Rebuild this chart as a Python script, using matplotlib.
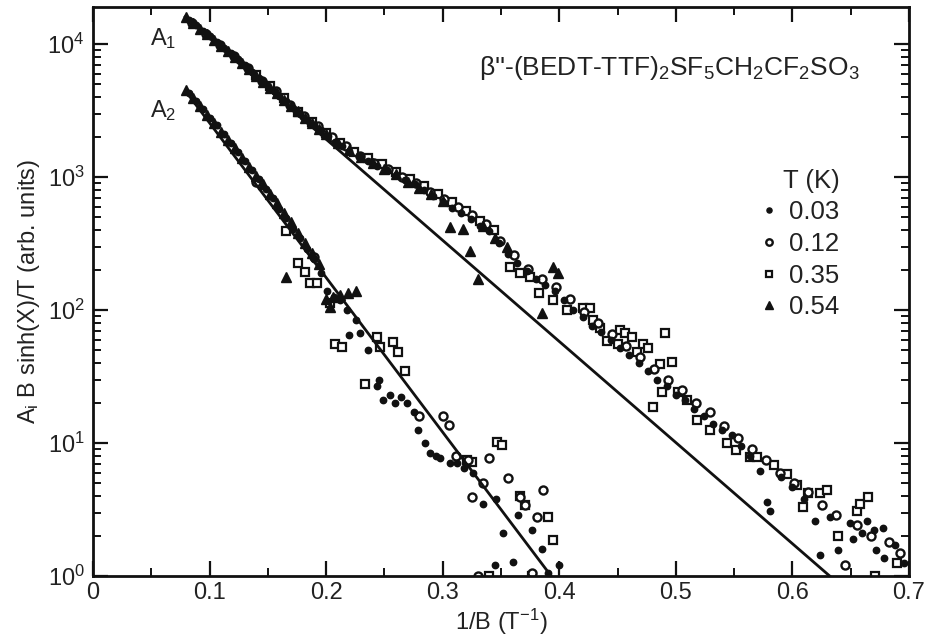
import matplotlib
matplotlib.use('Agg')
import matplotlib.pyplot as plt
from matplotlib.lines import Line2D
from matplotlib.ticker import LogLocator, MultipleLocator, NullFormatter

plt.rcParams['font.family'] = ['Liberation Sans', 'DejaVu Sans']
plt.rcParams['mathtext.fontset'] = 'custom'
plt.rcParams['mathtext.rm'] = 'Liberation Sans'
plt.rcParams['mathtext.it'] = 'Liberation Sans:italic'
plt.rcParams['mathtext.default'] = 'regular'

# ---------------- data ----------------
temps = ['0.03', '0.12', '0.35', '0.54']

# T = 0.03 K (filled circles)
t003_a1_x = [0.082, 0.088, 0.094, 0.100, 0.106, 0.112, 0.118, 0.124, 0.130, 0.136, 0.142, 0.148,
             0.154, 0.160, 0.166, 0.172, 0.178, 0.184, 0.190, 0.196, 0.202, 0.208, 0.214, 0.220,
             0.228, 0.236, 0.244, 0.252, 0.260, 0.268, 0.276, 0.284, 0.292, 0.300, 0.308, 0.316,
             0.324, 0.332, 0.340, 0.348, 0.356, 0.364, 0.372, 0.380, 0.388, 0.396, 0.404, 0.412,
             0.420, 0.428, 0.436, 0.444, 0.452, 0.460, 0.468, 0.476, 0.484, 0.492, 0.500, 0.508,
             0.516, 0.524, 0.532, 0.540, 0.548, 0.556, 0.564, 0.572, 0.578, 0.581, 0.590, 0.600,
             0.610, 0.619, 0.624, 0.632, 0.639, 0.649, 0.652, 0.660, 0.664, 0.670, 0.672, 0.678,
             0.679, 0.688, 0.696]
t003_a1_y = [15200, 13800, 12600, 11400, 10300, 9300, 8500, 7700, 6900, 6200, 5600, 5000,
             4550, 4100, 3700, 3300, 3000, 2700, 2450, 2250, 2050, 1850, 1700, 1580,
             1430, 1330, 1220, 1130, 1030, 950, 880, 800, 720, 650, 590, 540,
             480, 430, 390, 320, 265, 225, 195, 172, 155, 140, 118, 100,
             88, 76, 68, 60, 52, 46, 40, 35, 30, 27, 23, 21,
             18, 16, 14, 12.5, 11.5, 9.5, 8.0, 6.2, 3.6, 3.1, 5.6, 4.7,
             3.8, 2.6, 1.44, 2.8, 1.57, 2.5, 1.9, 2.1, 2.6, 2.2, 1.57, 2.3,
             1.36, 1.7, 1.25]
t003_a2_x = [0.082, 0.088, 0.094, 0.100, 0.106, 0.112, 0.118, 0.124, 0.130, 0.136, 0.142, 0.148,
             0.154, 0.160, 0.166, 0.172, 0.178, 0.184, 0.190, 0.196, 0.201, 0.207, 0.212, 0.218,
             0.220, 0.226, 0.229, 0.236, 0.244, 0.245, 0.249, 0.255, 0.259, 0.264, 0.269, 0.275,
             0.279, 0.285, 0.289, 0.294, 0.298, 0.306, 0.312, 0.318, 0.326, 0.335, 0.346, 0.345,
             0.352, 0.360, 0.365, 0.377, 0.385, 0.390, 0.400]
t003_a2_y = [4300, 3750, 3250, 2800, 2450, 2100, 1800, 1550, 1320, 1120, 960, 820,
             690, 580, 490, 410, 350, 290, 240, 190, 140, 125, 118, 100,
             65, 84, 67, 50, 27, 30, 21, 23, 20, 22, 20, 17,
             12.5, 10, 8.4, 8.0, 7.7, 7.1, 7.1, 6.5, 6.0, 3.5, 3.8, 1.2,
             2.1, 1.27, 2.9, 2.2, 1.6, 1.05, 1.2]

# T = 0.12 K (open circles)
t012_a1_x = [0.085, 0.097, 0.109, 0.121, 0.133, 0.145, 0.157, 0.169, 0.181, 0.193, 0.205, 0.217,
             0.229, 0.241, 0.253, 0.265, 0.277, 0.289, 0.301, 0.313, 0.325, 0.337, 0.349, 0.361,
             0.373, 0.385, 0.397, 0.409, 0.421, 0.433, 0.445, 0.457, 0.469, 0.481, 0.493, 0.505,
             0.517, 0.529, 0.541, 0.553, 0.565, 0.577, 0.589, 0.601, 0.613, 0.625, 0.637, 0.645,
             0.655, 0.667, 0.683, 0.692]
t012_a1_y = [14500, 12000, 9900, 8100, 6600, 5300, 4400, 3500, 2900, 2400, 2000, 1700,
             1450, 1280, 1150, 1000, 900, 770, 680, 600, 520, 440, 330, 260,
             205, 170, 148, 120, 97, 80, 66, 54, 44, 36, 30, 25,
             20, 17, 13.5, 11, 9.0, 7.5, 6.0, 5.0, 4.3, 3.4, 2.9, 1.2,
             2.4, 2.0, 1.8, 1.5]
t012_a2_x = [0.140, 0.190, 0.280, 0.300, 0.305, 0.311, 0.322, 0.325, 0.330, 0.335, 0.340, 0.356,
             0.366, 0.371, 0.377, 0.381, 0.386]
t012_a2_y = [920, 250, 16, 16, 13.7, 8.0, 7.5, 3.9, 1.0, 5.0, 7.7, 5.5,
             3.9, 3.4, 1.05, 2.8, 4.4]

# T = 0.35 K (open squares)
t035_a1_x = [0.140, 0.152, 0.164, 0.176, 0.188, 0.200, 0.212, 0.224, 0.236, 0.248, 0.260, 0.272,
             0.284, 0.296, 0.308, 0.320, 0.332, 0.344, 0.358, 0.366, 0.375, 0.383, 0.395, 0.407,
             0.420, 0.426, 0.429, 0.435, 0.441, 0.450, 0.452, 0.456, 0.462, 0.467, 0.472, 0.476,
             0.486, 0.491, 0.497, 0.480, 0.488, 0.502, 0.510, 0.518, 0.529, 0.544, 0.552, 0.564,
             0.570, 0.584, 0.595, 0.604, 0.609, 0.613, 0.624, 0.630, 0.639, 0.655, 0.658, 0.665,
             0.671, 0.690]
t035_a1_y = [5900, 4800, 3900, 3100, 2600, 2150, 1800, 1550, 1380, 1250, 1100, 960,
             850, 740, 650, 560, 470, 400, 210, 190, 178, 135, 118, 100,
             104, 104, 84, 73, 59, 56, 71, 67, 63, 48, 56, 52,
             39, 67, 41, 18.6, 24, 24, 21, 15, 12.5, 10, 8.9, 7.9,
             7.9, 6.8, 5.8, 4.8, 3.3, 4.2, 4.2, 4.4, 2.0, 3.1, 3.5, 3.9,
             1.0, 1.25]
t035_a2_x = [0.166, 0.176, 0.182, 0.186, 0.192, 0.203, 0.208, 0.214, 0.233, 0.244, 0.246, 0.257,
             0.262, 0.268, 0.321, 0.325, 0.347, 0.351, 0.366, 0.371, 0.390, 0.395, 0.340, 0.377]
t035_a2_y = [390, 225, 193, 160, 160, 113, 56, 53, 28, 63, 53, 57,
             48, 35, 7.4, 7.2, 10.2, 9.6, 4.0, 3.4, 2.8, 1.86, 1.0, 1.0]

# T = 0.54 K (filled triangles)
t054_a1_x = [0.080, 0.086, 0.092, 0.098, 0.104, 0.110, 0.116, 0.122, 0.128, 0.134, 0.140, 0.146,
             0.152, 0.158, 0.164, 0.170, 0.176, 0.182, 0.188, 0.194, 0.200, 0.210, 0.220, 0.230,
             0.240, 0.250, 0.260, 0.270, 0.280, 0.290, 0.300, 0.306, 0.317, 0.323, 0.330, 0.335,
             0.345, 0.355, 0.385, 0.395, 0.399]
t054_a1_y = [16000, 14300, 13000, 11900, 10700, 9700, 8800, 8000, 7200, 6500, 5800, 5200,
             4700, 4250, 3800, 3450, 3150, 2800, 2550, 2300, 2100, 1800, 1600, 1420,
             1270, 1150, 1050, 920, 830, 740, 660, 420, 410, 280, 170, 430,
             350, 300, 95, 210, 190]
t054_a2_x = [0.080, 0.086, 0.092, 0.098, 0.104, 0.110, 0.116, 0.122, 0.128, 0.134, 0.140, 0.146,
             0.152, 0.158, 0.164, 0.166, 0.170, 0.176, 0.182, 0.188, 0.194, 0.200, 0.203, 0.206,
             0.212, 0.219, 0.226]
t054_a2_y = [4500, 3900, 3400, 2950, 2550, 2200, 1900, 1650, 1400, 1200, 1020, 880,
             750, 640, 540, 178, 460, 380, 320, 270, 220, 120, 105, 125,
             130, 135, 140]

# straight-line fits (end points)
fit_a1_x = [0.079, 0.632]
fit_a1_y = [16000, 1.0]
fit_a2_x = [0.080, 0.393]
fit_a2_y = [4360, 1.0]

x_ticks = [0, 0.1, 0.2, 0.3, 0.4, 0.5, 0.6, 0.7]
x_ticklabels = ['0', '0.1', '0.2', '0.3', '0.4', '0.5', '0.6', '0.7']

# ---------------- figure ----------------
fig = plt.figure(figsize=(9.28, 6.41), dpi=100)
ax = fig.add_axes([0.1002, 0.1014, 0.8793, 0.8877])
ax.set_yscale('log')
ax.set_xlim(0, 0.7)
ax.set_ylim(1, 1.9e4)

ink = '#111111'
txt_c = '#222222'
styles = {
    '0.03': dict(marker='o', ms=4.6, mfc=ink, mec=ink, mew=1.0),
    '0.12': dict(marker='o', ms=5.8, mfc='white', mec=ink, mew=1.7),
    '0.35': dict(marker='s', ms=5.6, mfc='white', mec=ink, mew=1.6),
    '0.54': dict(marker='^', ms=6.6, mfc=ink, mec=ink, mew=1.0),
}
series = {
    '0.03': [(t003_a1_x, t003_a1_y), (t003_a2_x, t003_a2_y)],
    '0.12': [(t012_a1_x, t012_a1_y), (t012_a2_x, t012_a2_y)],
    '0.35': [(t035_a1_x, t035_a1_y), (t035_a2_x, t035_a2_y)],
    '0.54': [(t054_a1_x, t054_a1_y), (t054_a2_x, t054_a2_y)],
}
for t in ['0.35', '0.12', '0.54', '0.03']:
    for xs, ys in series[t]:
        ax.plot(xs, ys, ls='none', **styles[t])

ax.plot(fit_a1_x, fit_a1_y, color=ink, lw=2.0)
ax.plot(fit_a2_x, fit_a2_y, color=ink, lw=2.0)

# axes styling
for s in ax.spines.values():
    s.set_linewidth(2.0)
    s.set_color(ink)
ax.set_xticks(x_ticks)
ax.set_xticklabels(x_ticklabels)
ax.xaxis.set_minor_locator(MultipleLocator(0.05))
ax.yaxis.set_major_locator(LogLocator(base=10, numticks=10))
ax.yaxis.set_minor_locator(LogLocator(base=10, subs=range(2, 10), numticks=20))
ax.yaxis.set_minor_formatter(NullFormatter())
ax.tick_params(which='major', direction='in', length=11, width=1.6, top=True, right=True,
               labelsize=17, colors=ink, labelcolor=txt_c)
ax.tick_params(which='minor', direction='in', length=6, width=1.4, top=True, right=True, colors=ink)
ax.tick_params(axis='x', which='major', pad=4)
ax.tick_params(axis='y', which='major', pad=6)

ax.set_xlabel(r'1/B (T$^{-1}$)', fontsize=17, color=txt_c)
ax.set_ylabel(r'A$_i$ B sinh(X)/T (arb. units)', fontsize=17, color=txt_c)
ax.xaxis.set_label_coords(0.5, -0.054)
ax.yaxis.set_label_coords(-0.063, 0.5)

ax.text(0.049, 9800, r'A$_1$', fontsize=17, color=txt_c, va='baseline', ha='left')
ax.text(0.049, 2800, r'A$_2$', fontsize=17, color=txt_c, va='baseline', ha='left')
ax.text(0.658, 5850, r"β''-(BEDT-TTF)$_2$SF$_5$CH$_2$CF$_2$SO$_3$", fontsize=19,
        color=txt_c, va='baseline', ha='right')

handles = [Line2D([], [], ls='none', **{k: (v * 0.8 if k == 'ms' else v)
                                          for k, v in styles[t].items()}) for t in temps]
leg = ax.legend(handles, temps, title='T (K)', loc='upper left', bbox_to_anchor=(0.820, 0.716),
                frameon=False, fontsize=18.5, title_fontsize=18.5, handlelength=0.5,
                handletextpad=0.55, labelspacing=0.3, borderpad=0.0, borderaxespad=0.0,
                alignment='right')
for txt in leg.get_texts():
    txt.set_color(txt_c)
leg.get_title().set_color(txt_c)

fig.savefig('out.png', dpi=100)
